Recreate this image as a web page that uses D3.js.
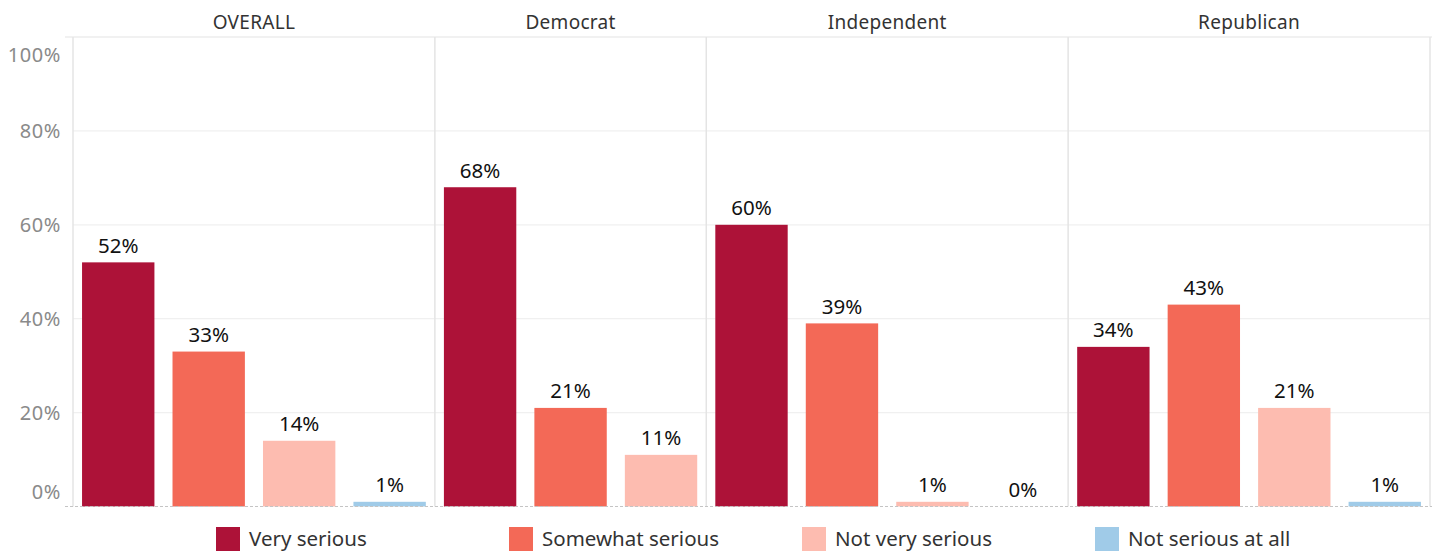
<!DOCTYPE html>
<html>
<head>
<meta charset="utf-8">
<script src="https://cdn.jsdelivr.net/npm/d3@7/dist/d3.min.js"></script>
<style>
  html, body { margin: 0; padding: 0; background: #fff; }
  svg { display: block; font-family: "Noto Sans", "Open Sans", sans-serif; }
</style>
</head>
<body>
<svg id="chart" width="1437" height="551"></svg>
<script>
// Survey responses by party (percent)
const panels = ["OVERALL", "Democrat", "Independent", "Republican"];
const categories = ["Very serious", "Somewhat serious", "Not very serious", "Not serious at all"];
const overallValues = [52, 33, 14, 1];
const democratValues = [68, 21, 11];
const independentValues = [60, 39, 1, 0];
const republicanValues = [34, 43, 21, 1];
const yTicks = [0, 20, 40, 60, 80, 100];
const colors = ["#ad1238", "#f36957", "#fdbcb0", "#a0cbe8"];

const panelValues = [overallValues, democratValues, independentValues, republicanValues];

const svg = d3.select("#chart");
const plotLeft = 73, plotRight = 1430, plotTop = 37, plotBottom = 506.5;

const y = d3.scaleLinear().domain([0, 100]).range([plotBottom, plotTop]);
const color = d3.scaleOrdinal().domain(categories).range(colors);

// Panel widths follow the number of bars in each panel
const counts = panelValues.map(v => v.length);
const totalBars = d3.sum(counts);
const unit = (plotRight - plotLeft) / totalBars;
let acc = plotLeft;
const panelX = counts.map(c => { const x0 = acc; acc += c * unit; return [x0, acc]; });

// Horizontal gridlines
svg.append("g")
  .selectAll("line")
  .data(yTicks.filter(t => t > 0 && t < 100))
  .join("line")
  .attr("x1", plotLeft).attr("x2", plotRight)
  .attr("y1", d => y(d)).attr("y2", d => y(d))
  .attr("stroke", "#f0f0f0").attr("stroke-width", 1.3);

// Top border
svg.append("line")
  .attr("x1", 65).attr("x2", plotRight + 2)
  .attr("y1", plotTop).attr("y2", plotTop)
  .attr("stroke", "#ececec").attr("stroke-width", 1.3);

// Panel dividers
svg.append("g")
  .selectAll("line")
  .data([plotLeft, ...panelX.map(p => p[1])])
  .join("line")
  .attr("x1", d => d).attr("x2", d => d)
  .attr("y1", plotTop).attr("y2", plotBottom)
  .attr("stroke", "#e4e4e4").attr("stroke-width", 1.5);

// Y axis labels
const yAxis = d3.axisLeft(y).tickValues(yTicks).tickFormat(d => d + "%").tickSize(0).tickPadding(12);
const yg = svg.append("g").attr("transform", `translate(${plotLeft},0)`).call(yAxis);
yg.select(".domain").remove();
yg.selectAll("text")
  .attr("font-size", 20)
  .attr("fill", "#8a8a8a")
  .attr("letter-spacing", 0.6)
  .attr("font-family", "Noto Sans, sans-serif")
  .attr("dy", d => d === 100 ? "1.2em" : d === 0 ? "-0.38em" : "0.34em");

// Bars per panel
panels.forEach((name, i) => {
  const [x0, x1] = panelX[i];
  const vals = panelValues[i];
  const cats = categories.slice(0, vals.length);
  const x = d3.scaleBand().domain(cats).range([x0, x1]).paddingInner(0.2).paddingOuter(0.1);
  const g = svg.append("g");

  g.append("text")
    .attr("x", (x0 + x1) / 2).attr("y", 29)
    .attr("text-anchor", "middle")
    .attr("font-size", 19)
    .attr("fill", "#333")
    .attr("letter-spacing", 0.3)
    .text(name);

  const data = cats.map((c, j) => ({ cat: c, value: vals[j] }));

  g.selectAll("rect")
    .data(data)
    .join("rect")
    .attr("x", d => x(d.cat))
    .attr("width", x.bandwidth())
    .attr("y", d => y(d.value))
    .attr("height", d => y(0) - y(d.value))
    .attr("fill", d => color(d.cat));

  g.selectAll("text.val")
    .data(data)
    .join("text")
    .attr("class", "val")
    .attr("x", d => x(d.cat) + x.bandwidth() / 2)
    .attr("y", d => y(d.value) - 9.5)
    .attr("text-anchor", "middle")
    .attr("font-size", 20.5)
    .attr("fill", "#111")
    .text(d => d.value + "%");
});

// Baseline
svg.append("line")
  .attr("x1", 65).attr("x2", plotRight + 2)
  .attr("y1", plotBottom).attr("y2", plotBottom)
  .attr("stroke", "#c4c4c4").attr("stroke-width", 1)
  .attr("stroke-dasharray", "3,2");

// Legend
const legendX = d3.scalePoint().domain(categories).range([216, 1095]);
const lg = svg.append("g")
  .selectAll("g")
  .data(categories)
  .join("g")
  .attr("transform", d => `translate(${legendX(d)},527)`);
lg.append("rect").attr("width", 24).attr("height", 24).attr("fill", d => color(d));
lg.append("text")
  .attr("x", 33).attr("y", 19)
  .attr("font-size", 20.5)
  .attr("fill", "#333")
  .text(d => d);
</script>
</body>
</html>
